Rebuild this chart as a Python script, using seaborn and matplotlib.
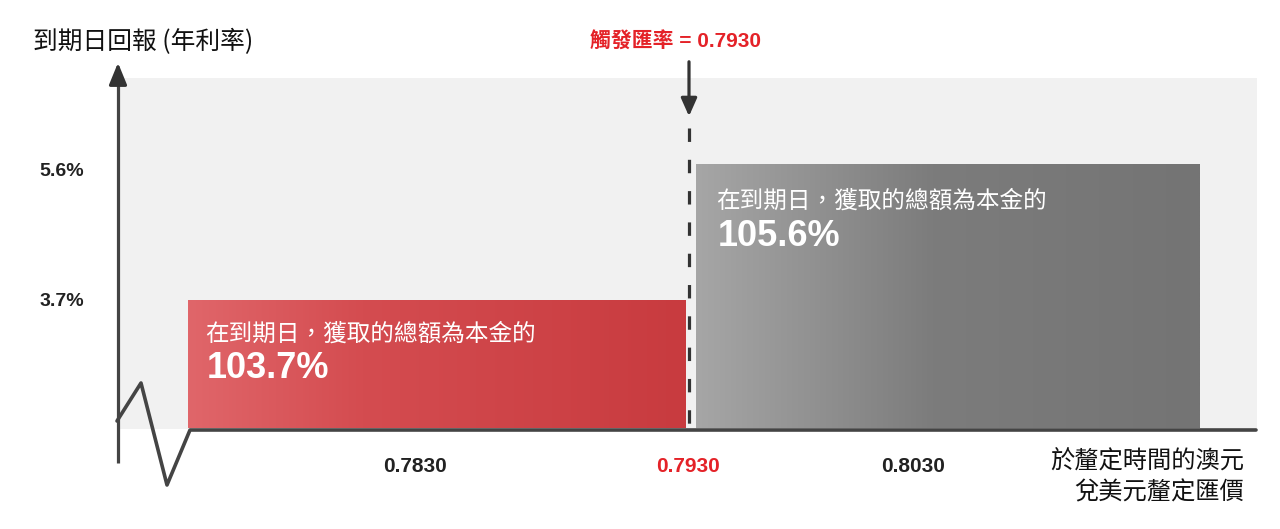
import numpy as np
import pandas as pd
import matplotlib
matplotlib.use("Agg")
import matplotlib.pyplot as plt
import seaborn as sns
from matplotlib.colors import LinearSegmentedColormap

# ---------------- data ----------------
y_title = "到期日回報 (年利率)"
x_title = "於釐定時間的澳元\n兌美元釐定匯價"
trigger_rate = "0.7930"
rate_ticks = ["0.7830", "0.7930", "0.8030"]
returns = [3.7, 5.6]                     # annual return (%)
return_labels = ["3.7%", "5.6%"]
payout_labels = ["103.7%", "105.6%"]
bar_caption = "在到期日，獲取的總額為本金的"

# ---------------- layout (pixel canvas) ----------------
W, H = 1280, 529
base_y = 428
# schematic vertical scale: return (%) -> pixel row
ret_anchor = [0.0, 3.7, 5.6]
px_anchor = [base_y, 300, 164]
def ret_to_px(r):
    return float(np.interp(r, ret_anchor, px_anchor))

bar_left = [188, 696]
bar_right = [686, 1200]
tick_x = [415, 688, 913]
trigger_x = 689

sns.set_theme(style="white")
plt.rcParams['font.family'] = ['Liberation Sans', 'Noto Sans CJK TC', 'DejaVu Sans']

fig = plt.figure(figsize=(W / 100, H / 100), dpi=100)
ax = fig.add_axes([0, 0, 1, 1])
ax.set_xlim(0, W)
ax.set_ylim(H, 0)
ax.axis("off")

# light grey plotting region
ax.add_patch(plt.Rectangle((120, 78), 1257 - 120, base_y + 1 - 78,
                           facecolor="#f1f1f1", edgecolor="none", zorder=0))

# bars with gradients
grads = [
    LinearSegmentedColormap.from_list("r", [(0, "#e0666a"), (0.35, "#d44c50"), (1, "#c83b3f")]),
    LinearSegmentedColormap.from_list("g", [(0, "#a6a6a6"), (0.47, "#7c7c7c"), (1, "#747474")]),
]
bar_df = pd.DataFrame({"left": bar_left, "right": bar_right, "ret": returns})
for i, row in bar_df.iterrows():
    top = ret_to_px(row["ret"])
    b = ax.bar(row["left"], top - base_y, width=row["right"] - row["left"],
               bottom=base_y, align="edge", facecolor="none", edgecolor="none", zorder=2)[0]
    grad = np.linspace(0, 1, 256).reshape(1, -1)
    im = ax.imshow(grad, cmap=grads[i], aspect="auto",
                   extent=(row["left"], row["right"], base_y, top), zorder=2)
    im.set_clip_path(b)

# y tick labels
for r, lab in zip(returns, return_labels):
    ax.text(62, ret_to_px(r) + (8 if r > 5 else 2), lab, ha="center", va="center",
            fontsize=14, fontweight="bold", color="#222222")

# axis: vertical line with arrow + zigzag break + baseline
ax.plot([118, 118], [463, 80], color="#444444", lw=2.3, solid_capstyle="butt", zorder=3)
ax.annotate("", xy=(118, 60), xytext=(118, 82),
            arrowprops=dict(arrowstyle="-|>,head_length=1.1,head_width=0.45",
                            color="#333333", lw=2.3), zorder=4)
zig = pd.DataFrame({"x": [117, 141, 167, 190, 1256], "y": [421, 383, 485, 430, 430]})
sns.lineplot(data=zig, x="x", y="y", sort=False, color="#444444", lw=2.6, ax=ax, zorder=4)
ax.set_xlim(0, W)
ax.set_ylim(H, 0)
ax.axis("off")

# trigger dashed line and arrow
ax.plot([trigger_x, trigger_x], [128, base_y], color="#333333", lw=2.3,
        linestyle=(0, (4.2, 5.6)), zorder=3)
ax.annotate("", xy=(trigger_x, 119), xytext=(trigger_x, 59),
            arrowprops=dict(arrowstyle="-|>,head_length=0.9,head_width=0.4",
                            color="#333333", lw=2.3), zorder=4)
ax.text(675, 42, f"觸發匯率 = {trigger_rate}", ha="center", va="center",
        fontsize=15, fontweight="bold", color="#e42228")

# x tick labels
for xp, lab in zip(tick_x, rate_ticks):
    col = "#e42228" if lab == trigger_rate else "#222222"
    ax.text(xp, 466, lab, ha="center", va="center", fontsize=15,
            fontweight="bold", color=col)

# titles
ax.text(33, 42, y_title, ha="left", va="center", fontsize=17.8, color="#111111",
        family=['Noto Sans CJK TC', 'DejaVu Sans'], fontweight="medium")
ax.text(1244, 477, x_title, ha="right", va="center", fontsize=17.5, color="#111111",
        family=['Noto Sans CJK TC', 'DejaVu Sans'], linespacing=1.25)

# bar captions
cap_pos = [(205, 334, 368), (716, 201, 237)]
for (cx, cy, py), pl in zip(cap_pos, payout_labels):
    ax.text(cx, cy, bar_caption, ha="left", va="center", fontsize=17, color="white",
            family=['Noto Sans CJK TC', 'DejaVu Sans'])
    ax.text(cx + 2, py, pl, ha="left", va="center", fontsize=26, fontweight="bold",
            color="white")

fig.savefig("out.png", dpi=100)
